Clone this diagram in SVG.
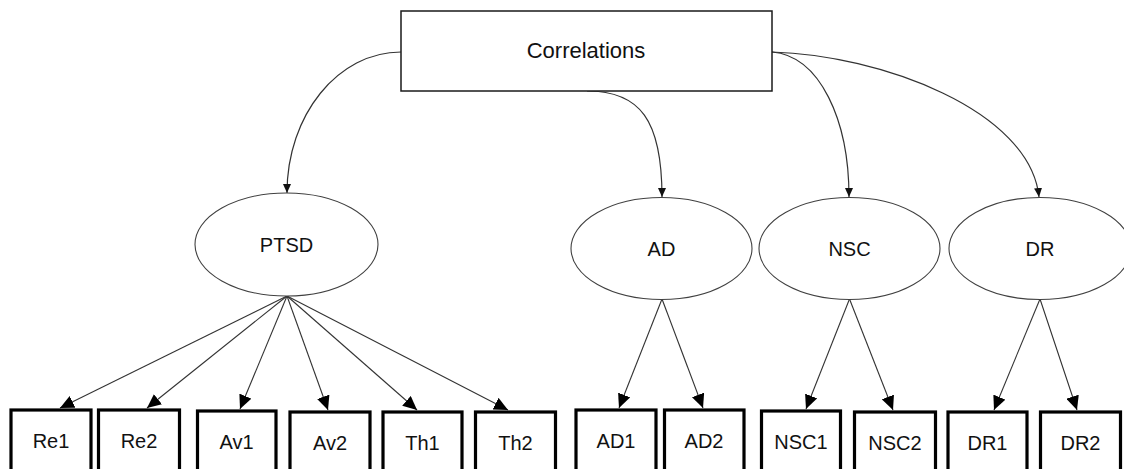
<svg xmlns="http://www.w3.org/2000/svg" width="1124" height="469" viewBox="0 0 1124 469">
  <style>
    text { font-family: "Liberation Sans", Arial, sans-serif; fill: #111; text-anchor: middle; }
    .title { font-size: 22px; }
    .lbl { font-size: 20px; }
    .latent { fill: #fff; stroke: #404040; stroke-width: 1.1; }
    .top { fill: #fff; stroke: #1a1a1a; stroke-width: 1.5; }
    .item { fill: #fff; stroke: #000; stroke-width: 3.2; }
    .curve { fill: none; stroke: #333; stroke-width: 1.2; marker-end: url(#tipSmall); }
    .load { fill: none; stroke: #333; stroke-width: 1.1; marker-end: url(#tipLarge); }
  </style>
  <defs>
    <marker id="tipSmall" markerUnits="userSpaceOnUse" markerWidth="9" markerHeight="8" refX="9" refY="4" orient="auto">
      <path d="M0,0 L9,4 L0,8 z" fill="#111"/>
    </marker>
    <marker id="tipLarge" markerUnits="userSpaceOnUse" markerWidth="14" markerHeight="13" refX="14" refY="6.5" orient="auto">
      <path d="M0,0 L14,6.5 L0,13 z" fill="#000"/>
    </marker>
  </defs>
  <rect width="1124" height="469" fill="#fff"/>

  <!-- connectors -->
  <g id="connectors">
    <path class="curve" d="M401,52 C338,52 287,115 287,193"/>
    <path class="curve" d="M587,91 C640,91 662,120 662,197"/>
    <path class="curve" d="M772,52 C820,56 849,120 849,197"/>
    <path class="curve" d="M772,52 C880,55 1030,110 1039,197"/>

    <line class="load" x1="287" y1="296" x2="60" y2="408"/>
    <line class="load" x1="287" y1="296" x2="147" y2="408"/>
    <line class="load" x1="287" y1="296" x2="240" y2="409"/>
    <line class="load" x1="287" y1="296" x2="328" y2="410"/>
    <line class="load" x1="287" y1="296" x2="417" y2="410"/>
    <line class="load" x1="287" y1="296" x2="508" y2="410"/>

    <line class="load" x1="662" y1="299" x2="619" y2="408"/>
    <line class="load" x1="662" y1="299" x2="703" y2="408"/>
    <line class="load" x1="849.5" y1="299" x2="806" y2="409"/>
    <line class="load" x1="849.5" y1="299" x2="893" y2="410"/>
    <line class="load" x1="1040" y1="299" x2="994" y2="410"/>
    <line class="load" x1="1040" y1="299" x2="1077" y2="410"/>
  </g>

  <!-- correlations box -->
  <g id="correlations">
    <rect class="top" x="401" y="11" width="371" height="80"/>
    <text class="title" x="586" y="58">Correlations</text>
  </g>

  <!-- latent factors -->
  <g id="ptsd">
    <ellipse class="latent" cx="286.5" cy="244.5" rx="91.5" ry="51.5"/>
    <text class="lbl" x="286.5" y="252">PTSD</text>
  </g>
  <g id="ad">
    <ellipse class="latent" cx="661.5" cy="248.5" rx="90.5" ry="51"/>
    <text class="lbl" x="661.5" y="256">AD</text>
  </g>
  <g id="nsc">
    <ellipse class="latent" cx="849.5" cy="248.5" rx="90.5" ry="51"/>
    <text class="lbl" x="849.5" y="256">NSC</text>
  </g>
  <g id="dr">
    <ellipse class="latent" cx="1040" cy="248.5" rx="91" ry="51"/>
    <text class="lbl" x="1040" y="256">DR</text>
  </g>

  <!-- observed items -->
  <g id="re1"><rect class="item" x="11" y="410" width="80" height="70"/><text class="lbl" x="51" y="448">Re1</text></g>
  <g id="re2"><rect class="item" x="98.5" y="410" width="81" height="70"/><text class="lbl" x="139" y="448">Re2</text></g>
  <g id="av1"><rect class="item" x="197.5" y="411" width="78.5" height="70"/><text class="lbl" x="236.5" y="449">Av1</text></g>
  <g id="av2"><rect class="item" x="290" y="412" width="80" height="70"/><text class="lbl" x="330" y="450">Av2</text></g>
  <g id="th1"><rect class="item" x="383" y="412" width="79" height="70"/><text class="lbl" x="422.5" y="450">Th1</text></g>
  <g id="th2"><rect class="item" x="475.5" y="412" width="80" height="70"/><text class="lbl" x="515.5" y="450">Th2</text></g>
  <g id="ad1"><rect class="item" x="576" y="410" width="80" height="70"/><text class="lbl" x="616" y="448">AD1</text></g>
  <g id="ad2"><rect class="item" x="664.5" y="410" width="79.5" height="70"/><text class="lbl" x="704" y="448">AD2</text></g>
  <g id="nsc1"><rect class="item" x="761.5" y="411" width="79" height="70"/><text class="lbl" x="801" y="449">NSC1</text></g>
  <g id="nsc2"><rect class="item" x="854.5" y="412" width="81" height="70"/><text class="lbl" x="895" y="450">NSC2</text></g>
  <g id="dr1"><rect class="item" x="948" y="412" width="79" height="70"/><text class="lbl" x="987.5" y="450">DR1</text></g>
  <g id="dr2"><rect class="item" x="1040.5" y="412" width="80" height="70"/><text class="lbl" x="1080.5" y="450">DR2</text></g>
</svg>
